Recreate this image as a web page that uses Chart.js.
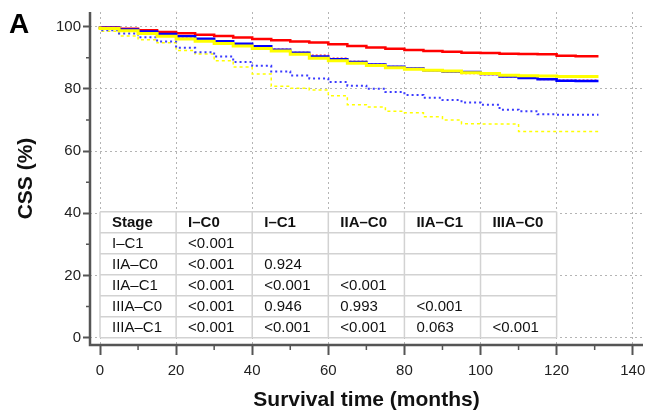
<!DOCTYPE html>
<html>
<head>
<meta charset="utf-8">
<script src="https://cdn.jsdelivr.net/npm/chart.js@4.4.0/dist/chart.umd.min.js"></script>
<style>
  html, body { margin: 0; padding: 0; background: #fff; }
  #wrap { position: relative; width: 646px; height: 413px; }
</style>
</head>
<body>
<div id="wrap"><canvas id="cssChart" width="646" height="413"></canvas></div>
<script>
// follow-up time (months) at which survival values are read
const months = [0, 5, 10, 15, 20, 25, 30, 35, 40, 45, 50, 55, 60, 65, 70, 75, 80, 85, 90, 95, 100, 105, 110, 115, 120, 125, 130, 131];

// CSS (%) per stage
const cssIC0 = [100, 99.7, 99.3, 98.8, 98.3, 97.9, 97.4, 97.0, 96.5, 96.0, 95.6, 95.2, 94.9, 94.3, 93.8, 93.3, 92.9, 92.5, 92.2, 91.9, 91.6, 91.5, 91.3, 91.2, 91.1, 90.6, 90.5, 90.5];
const cssIC1 = [100, 99.5, 99.0, 98.3, 97.5, 96.7, 96.0, 95.2, 94.3, 93.5, 92.8, 91.8, 90.9, 89.9, 88.9, 88.0, 87.2, 86.6, 85.9, 85.4, 84.9, 84.5, 83.9, 83.4, 83.0, 82.8, 82.8, 82.8];
const cssIIAC0 = [100, 99.6, 99.1, 98.4, 97.6, 96.9, 96.1, 95.3, 94.5, 93.7, 92.6, 91.6, 90.4, 89.5, 88.6, 87.8, 87.1, 86.5, 86.0, 85.6, 85.4, 84.8, 84.0, 83.5, 83.1, 82.6, 82.5, 82.5];
const cssIIAC1 = [100, 98.8, 97.8, 96.6, 95.2, 93.2, 91.8, 90.4, 88.6, 87.4, 85.6, 84.3, 83.3, 82.2, 81.0, 80.0, 79.0, 78.0, 77.1, 76.4, 75.6, 74.9, 73.3, 72.8, 71.8, 71.7, 71.7, 71.7];
const cssIIIAC0 = [100, 99.4, 98.7, 97.8, 96.9, 96.0, 95.3, 94.6, 93.8, 93.0, 92.2, 91.1, 89.8, 89.0, 88.2, 87.5, 86.8, 86.3, 86.0, 85.7, 85.2, 84.9, 84.4, 84.2, 84.1, 84.0, 84.0, 84.0];
const cssIIIAC1 = [100, 98.5, 97.0, 95.8, 94.8, 92.3, 91.2, 89.0, 87.0, 84.8, 80.8, 80.2, 79.6, 77.8, 74.9, 74.2, 72.8, 72.3, 71.0, 70.0, 68.8, 68.7, 68.7, 66.3, 66.3, 66.3, 66.3, 66.3];

const xTickValues = [0, 20, 40, 60, 80, 100, 120, 140];
const yTickValues = [0, 20, 40, 60, 80, 100];
const xMinorTicks = [10, 30, 50, 70, 90, 110, 130];
const yMinorTicks = [10, 30, 50, 70, 90];

// pairwise log-rank p values
const pHeader = ['Stage', 'I\u2013C0', 'I\u2013C1', 'IIA\u2013C0', 'IIA\u2013C1', 'IIIA\u2013C0'];
const pRows = [
  ['I\u2013C1', '<0.001', '', '', '', ''],
  ['IIA\u2013C0', '<0.001', '0.924', '', '', ''],
  ['IIA\u2013C1', '<0.001', '<0.001', '<0.001', '', ''],
  ['IIIA\u2013C0', '<0.001', '0.946', '0.993', '<0.001', ''],
  ['IIIA\u2013C1', '<0.001', '<0.001', '<0.001', '0.063', '<0.001']
];

const FONT = '"Liberation Sans", Arial, Helvetica, sans-serif';
const AXIS_COLOR = '#555';

const toPoints = vals => vals.map((v, i) => ({ x: months[i], y: v }));

function curve(label, vals, color, width, dash) {
  return {
    label: label,
    data: toPoints(vals),
    borderColor: color,
    borderWidth: width,
    borderDash: dash,
    pointRadius: 0,
    fill: false,
    stepped: 'after',
    tension: 0
  };
}

// p-value table sits inside the plot, columns on the x grid
const tablePlugin = {
  id: 'pTable',
  beforeDatasetsDraw(chart) {
    const { ctx, scales: { x, y } } = chart;
    const cols = xTickValues.slice(0, 7).map(v => x.getPixelForValue(v));
    const top = y.getPixelForValue(40.5);
    const bottom = y.getPixelForValue(0);
    const nRows = pRows.length + 1;
    const rh = (bottom - top) / nRows;

    ctx.save();
    ctx.fillStyle = '#fff';
    ctx.fillRect(cols[0], top, cols[cols.length - 1] - cols[0], bottom - top);
    ctx.strokeStyle = '#d2d2d2';
    ctx.lineWidth = 1.5;
    ctx.beginPath();
    for (let r = 0; r <= nRows; r++) {
      const yy = top + r * rh;
      ctx.moveTo(cols[0], yy);
      ctx.lineTo(cols[cols.length - 1], yy);
    }
    cols.forEach(cx => {
      ctx.moveTo(cx, top);
      ctx.lineTo(cx, bottom);
    });
    ctx.stroke();

    ctx.fillStyle = '#111';
    ctx.textBaseline = 'middle';
    ctx.textAlign = 'left';
    const all = [pHeader].concat(pRows);
    all.forEach((row, r) => {
      ctx.font = (r === 0 ? 'bold ' : '') + '15px ' + FONT;
      row.forEach((txt, c) => {
        if (!txt) return;
        ctx.fillText(txt, cols[c] + 12, top + r * rh + rh / 2 + 1);
      });
    });
    ctx.restore();
  }
};

// solid axis lines, minor ticks and the panel letter
const axesPlugin = {
  id: 'axesDeco',
  afterDraw(chart) {
    const { ctx, chartArea: a, scales: { x, y } } = chart;
    ctx.save();
    ctx.strokeStyle = AXIS_COLOR;
    ctx.lineWidth = 2.5;
    ctx.beginPath();
    ctx.moveTo(a.left, a.top);
    ctx.lineTo(a.left, a.bottom);
    ctx.lineTo(a.right, a.bottom);
    ctx.stroke();

    ctx.lineWidth = 1.5;
    ctx.beginPath();
    xMinorTicks.forEach(v => {
      const px = x.getPixelForValue(v);
      ctx.moveTo(px, a.bottom);
      ctx.lineTo(px, a.bottom + 5);
    });
    yMinorTicks.forEach(v => {
      const py = y.getPixelForValue(v);
      ctx.moveTo(a.left - 4, py);
      ctx.lineTo(a.left, py);
    });
    ctx.stroke();

    ctx.fillStyle = '#000';
    ctx.font = 'bold 28px ' + FONT;
    ctx.textBaseline = 'top';
    ctx.textAlign = 'left';
    ctx.fillText('A', 9, 11);
    ctx.restore();
  }
};

new Chart(document.getElementById('cssChart').getContext('2d'), {
  type: 'line',
  data: {
    datasets: [
      curve('IIIA\u2013C0', cssIIIAC0, '#ffff00', 3, []),
      curve('IIA\u2013C0', cssIIAC0, '#0000ff', 2.5, []),
      curve('I\u2013C1', cssIC1, 'rgba(255,60,60,0.75)', 1.5, [2, 2]),
      curve('I\u2013C0', cssIC0, '#ff0000', 2.5, []),
      curve('IIA\u2013C1', cssIIAC1, '#3b3bff', 2, [2, 3]),
      curve('IIIA\u2013C1', cssIIIAC1, '#ffff00', 1.5, [3, 3])
    ]
  },
  options: {
    responsive: false,
    animation: false,
    layout: { padding: { top: 12, right: 3, left: 0, bottom: 0 } },
    plugins: {
      legend: { display: false },
      tooltip: { enabled: false }
    },
    scales: {
      x: {
        type: 'linear',
        min: -2.63,
        max: 142.7,
        afterBuildTicks: axis => { axis.ticks = xTickValues.map(v => ({ value: v })); },
        afterFit: s => { s.height = 68; s.paddingLeft = 0; s.paddingRight = 0; },
        grid: {
          color: '#b4b4b4',
          lineWidth: 1,
          tickColor: AXIS_COLOR,
          tickWidth: 2,
          tickLength: 10
        },
        border: { display: false, dash: [2, 3] },
        ticks: {
          color: '#222',
          font: { size: 15, family: FONT },
          padding: 7,
          maxRotation: 0,
          autoSkip: false
        },
        title: {
          display: true,
          text: 'Survival time (months)',
          color: '#111',
          font: { size: 21, weight: 'bold', family: FONT },
          padding: { top: 0, bottom: 0.5 }
        }
      },
      y: {
        min: -2.35,
        max: 104.7,
        afterBuildTicks: axis => { axis.ticks = yTickValues.map(v => ({ value: v })); },
        afterFit: s => { s.width = 90; s.paddingTop = 0; s.paddingBottom = 0; },
        grid: {
          color: '#b4b4b4',
          lineWidth: 1,
          tickColor: AXIS_COLOR,
          tickWidth: 2,
          tickLength: 7
        },
        border: { display: false, dash: [2, 3] },
        ticks: {
          color: '#222',
          font: { size: 15, family: FONT },
          padding: 2
        },
        title: {
          display: true,
          text: 'CSS (%)',
          color: '#111',
          font: { size: 21, weight: 'bold', family: FONT },
          padding: { top: 13.4, bottom: 0 }
        }
      }
    }
  },
  plugins: [tablePlugin, axesPlugin]
});
</script>
</body>
</html>
